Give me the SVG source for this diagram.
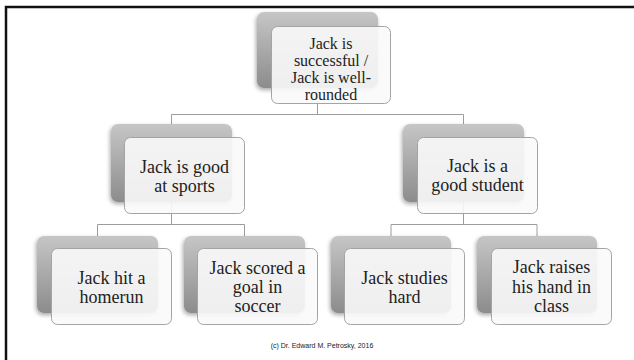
<svg xmlns="http://www.w3.org/2000/svg" width="634" height="360" viewBox="0 0 634 360">
<defs>
<linearGradient id="g" x1="0" y1="0" x2="0" y2="1">
<stop offset="0" stop-color="#c6c6c6"/>
<stop offset="1" stop-color="#8c8c8c"/>
</linearGradient>
<filter id="sh" x="-20%" y="-20%" width="140%" height="140%">
<feGaussianBlur in="SourceAlpha" stdDeviation="2"/>
<feOffset dx="-1" dy="2" result="b"/>
<feComponentTransfer><feFuncA type="linear" slope="0.35"/></feComponentTransfer>
<feMerge><feMergeNode/><feMergeNode in="SourceGraphic"/></feMerge>
</filter>
<style>
.back{fill:url(#g);filter:url(#sh)}
.front{fill:#fafafa;fill-opacity:0.9;stroke:#a4a4a4;stroke-width:1}
.t{font-family:"Liberation Serif","DejaVu Serif",serif;font-size:18px;fill:#222;text-anchor:middle}
.tt{font-size:16px}
.con{fill:none;stroke:#9c9c9c;stroke-width:1}
.foot{font-family:"Liberation Sans",Arial,sans-serif;font-size:7px;fill:#222;text-anchor:middle}
</style>
</defs>
<rect width="634" height="360" fill="#fff"/>
<path d="M6,360 V7 H634" fill="none" stroke="#111" stroke-width="2.5"/>
<g id="connectors">
<path class="con" d="M317.5,88 V114.5 M171.5,114.5 H463.5 M171.5,114.5 V124 M463.5,114.5 V124"/>
<path class="con" d="M171.5,202 V224.5 M97.5,224.5 H244.5 M97.5,224.5 V236 M244.5,224.5 V236"/>
<path class="con" d="M463.5,202 V224.5 M391,224.5 H537 M391,224.5 V236 M537,224.5 V236"/>
</g>
<g id="n0">
<rect class="back" x="257" y="12" width="121" height="76" rx="7"/>
<rect class="front" x="271.5" y="26.5" width="119" height="77" rx="6"/>
<text class="t tt" x="331" y="49">Jack is</text>
<text class="t tt" x="331" y="66">successful /</text>
<text class="t tt" x="331" y="83">Jack is well-</text>
<text class="t tt" x="331" y="99.5">rounded</text>
</g>
<g id="n1">
<rect class="back" x="111" y="124" width="121" height="78" rx="7"/>
<rect class="front" x="124.5" y="137.5" width="120" height="76" rx="6"/>
<text class="t" x="184.5" y="173">Jack is good</text>
<text class="t" x="184.5" y="192">at sports</text>
</g>
<g id="n2">
<rect class="back" x="403" y="124" width="121" height="78" rx="7"/>
<rect class="front" x="417.5" y="137.5" width="120" height="76" rx="6"/>
<text class="t" x="477.5" y="172">Jack is a</text>
<text class="t" x="477.5" y="191">good student</text>
</g>
<g id="n3">
<rect class="back" x="37" y="236" width="121" height="77" rx="7"/>
<rect class="front" x="51.5" y="248.5" width="120" height="76" rx="6"/>
<text class="t" x="111.5" y="284">Jack hit a</text>
<text class="t" x="111.5" y="303">homerun</text>
</g>
<g id="n4">
<rect class="back" x="184" y="236" width="121" height="77" rx="7"/>
<rect class="front" x="197.5" y="248.5" width="120" height="76" rx="6"/>
<text class="t" x="257.5" y="274">Jack scored a</text>
<text class="t" x="257.5" y="293">goal in</text>
<text class="t" x="257.5" y="312">soccer</text>
</g>
<g id="n5">
<rect class="back" x="331" y="236" width="120" height="77" rx="7"/>
<rect class="front" x="344.5" y="248.5" width="120" height="76" rx="6"/>
<text class="t" x="404.5" y="284">Jack studies</text>
<text class="t" x="404.5" y="303">hard</text>
</g>
<g id="n6">
<rect class="back" x="477" y="236" width="120" height="77" rx="7"/>
<rect class="front" x="491.5" y="248.5" width="120" height="76" rx="6"/>
<text class="t" x="551.5" y="273">Jack raises</text>
<text class="t" x="551.5" y="293">his hand in</text>
<text class="t" x="551.5" y="312">class</text>
</g>
<text class="foot" x="322" y="348">(c) Dr. Edward M. Petrosky, 2016</text>
</svg>
